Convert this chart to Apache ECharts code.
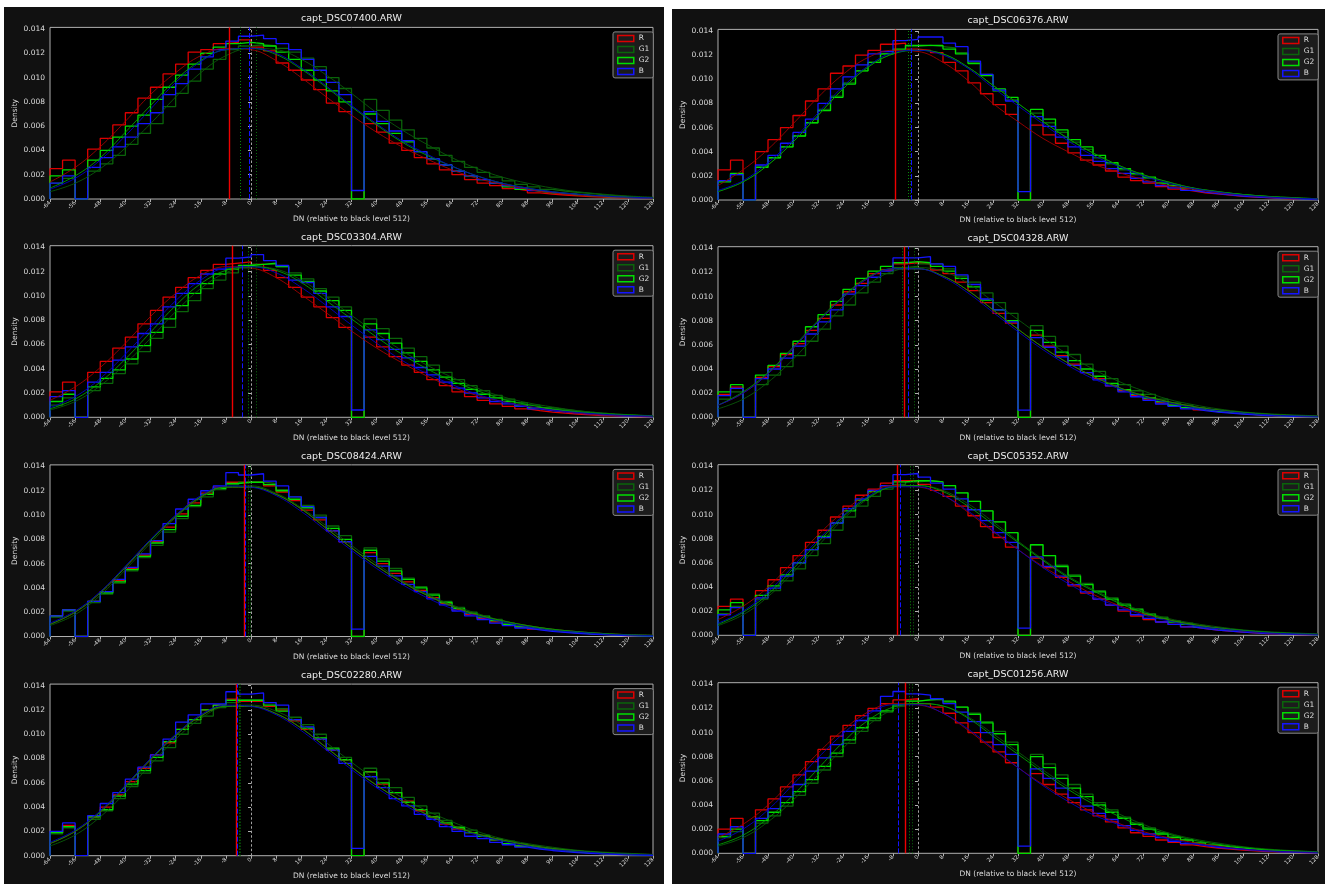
<!DOCTYPE html>
<html><head><meta charset="utf-8">
<script src="https://cdn.jsdelivr.net/npm/echarts@6/dist/echarts.min.js"></script>
<style>html,body{margin:0;padding:0;background:#fff}#c{width:1325px;height:884px}</style>
</head><body><div id="c"></div>
<script>
// Histogram bin edges (DN relative to black level 512)
const BIN_EDGES = [-64,-60,-56,-52,-48,-44,-40,-36,-32,-28,-24,-20,-16,-12,-8,-4,0,4,8,12,16,20,24,28,32,36,40,44,48,52,56,60,64,68,72,76,80,84,88,92,96,100,104,108,112,116,120,124,128];
// x positions of fitted-curve samples
const FIT_X = [-64,-56,-48,-40,-32,-24,-16,-8,0,8,16,24,32,40,48,56,64,72,80,88,96,104,112,120,128];
const CHANNELS = ['R','G1','G2','B'];
const UNIT = 1e-4; // all densities below are in units of 1e-4

// ---- capt_DSC07400.ARW ----
const L1_R  = [25,32,0,41,50,61,71,83,92,103, 111,121,123,128,129,131,125,122,112,106, 98,90,79,72,0,62,55,46,40,34, 29,24,20,16,13,11,8.5,7,5,4, 3.3,2.5,2,1.5,1.1,0.8,0.5,0.3];
const L1_G1 = [13,17,0,23,29,36,45,54,62,76, 87,97,107,115,123,126,127,126,124,121, 116,109,100,91,0,82,73,65,57,50, 42,36,31,26,22,18,15,12,10,8, 6.6,5.5,4.7,3.6,2.8,2,1.4,1];
const L1_G2 = [19,24,0,32,40,51,60,69,82,92, 102,111,120,125,128,129,128,126,121,115, 106,98,89,80,0,70,62,54,47,39, 33,28,23,19,16,13,10,8,6.6,5, 4.4,3.5,2.8,2.2,1.6,1.1,0.7,0.4];
const L1_B  = [13,19,0,26,34,43,51,62,71,86, 95,107,117,123,130,134,135,132,128,123, 115,106,96,86,7,72,64,56,48,39, 33,28,23,19,16,13,11,9,7,5.5, 4.7,3.8,3,2.3,1.7,1.2,0.8,0.5];
const L1_R_FIT  = [14,26,43,64,86,104,118,124,123,114,100,84,69,55,43,33,24,17,12,8,5,3.2,2,1.2,0.7];
const L1_G1_FIT = [6,13,25,42,62,84,104,118,124,123,115,102,87,71,57,45,34,25,18,13,9,6,4,2.5,1.5];
const L1_G2_FIT = [9,19,34,55,77,98,114,123,124,119,107,92,76,61,47,36,27,19,13,9,6,4,2.5,1.5,1];
const L1_B_FIT  = [8,17,32,52,74,96,113,123,124,120,108,93,77,62,48,37,27,19,13,9,6,4,2.5,1.5,1];
const L1_MEAN = [-6.85, 1.7, -3.4, -0.7];

// ---- capt_DSC03304.ARW ----
const L2_R  = [21,29,0,37,46,57,66,77,88,99, 107,115,121,126,127,128,126,121,115,107, 99,91,82,74,0,66,58,50,43,37, 31,26,21,17,14,11,9,7,5.5,4.3, 3.4,2.6,2,1.5,1.1,0.7,0.5,0.3];
const L2_G1 = [10,16,0,22,28,36,44,54,65,74, 87,96,106,113,119,123,126,126,124,119, 114,106,99,91,0,81,73,65,57,50, 43,37,31,26,22,18,15,12,10,8, 6.5,5.3,4.3,3.4,2.6,1.9,1.3,0.8];
const L2_G2 = [13,19,0,25,32,39,48,59,70,81, 92,102,110,118,122,125,126,127,124,117, 112,104,96,88,0,77,69,61,53,46, 39,33,28,23,19,16,13,10,8,6.5, 5.2,4.2,3.3,2.5,1.8,1.2,0.8,0.5];
const L2_B  = [17,22,0,29,37,47,58,69,77,91, 102,110,118,122,131,132,134,129,125,113, 111,102,91,83,6,72,64,56,49,41, 35,29,24,20,16,13,11,9,7,5.5, 4.4,3.5,2.7,2,1.5,1,0.7,0.4];
const L2_R_FIT  = [14,25,41,61,83,102,117,124,123,115,101,86,71,57,45,34,25,18,13,9,6,3.5,2,1.3,0.8];
const L2_G1_FIT = [6,13,26,44,65,87,106,119,124,122,113,99,84,69,55,43,33,24,17,12,8.5,5.5,3.5,2.2,1.3];
const L2_G2_FIT = [7,15,29,48,70,92,110,121,124,121,111,96,81,66,52,40,30,22,15,10.5,7,4.5,3,2,1.2];
const L2_B_FIT  = [8,17,32,52,74,96,113,123,124,119,107,92,76,61,47,36,27,19,13,9,6,4,2.5,1.5,1];
const L2_MEAN = [-6.0, 1.8, -0.9, -2.8];

// ---- capt_DSC08424.ARW ----
const L3_R  = [17,22,0,29,37,46,56,67,78,90, 101,110,118,123,127,127,127,124,119,112, 104,96,87,78,0,69,60,52,45,38, 32,27,22,18,15,12,10,8,6,4.8, 3.8,3,2.3,1.7,1.2,0.8,0.5,0.3];
const L3_G1 = [16,21,0,28,35,44,54,65,75,86, 97,107,115,121,125,127,127,126,121,115, 108,100,91,83,0,73,64,56,48,41, 35,29,24,20,17,14,11,9,7,5.5, 4.4,3.4,2.6,2,1.5,1,0.7,0.4];
const L3_G2 = [17,22,0,29,36,45,55,66,77,88, 99,108,117,122,126,127,127,125,120,113, 106,98,89,80,0,71,62,54,47,40, 34,28,23,19,16,13,10,8,6.5,5, 4,3.2,2.4,1.8,1.3,0.9,0.6,0.3];
const L3_B  = [17,22,0,29,37,47,57,68,79,93, 105,113,120,124,135,133,134,128,124,115, 107,98,87,78,6,66,58,50,43,37, 31,26,21,17,14,11,9,7,5.5,4.3, 3.4,2.6,2,1.5,1.1,0.7,0.5,0.3];
const L3_R_FIT  = [10,20,36,57,79,99,115,123,123,117,105,89,73,58,45,34,25,18,13,9,6,4,2.5,1.5,1];
const L3_G1_FIT = [9,18,34,55,77,98,114,123,124,118,106,91,75,60,46,35,26,19,13,9,6,4,2.5,1.5,1];
const L3_G2_FIT = [10,20,36,57,79,99,115,123,123,117,105,89,73,58,45,34,25,18,13,9,6,4,2.5,1.5,1];
const L3_B_FIT  = [11,21,37,58,80,100,116,124,123,116,103,87,71,56,43,32,23,17,12,8,5,3.5,2,1.2,0.8];
const L3_MEAN = [-2.3, -0.3, -0.9, -1.8];

// ---- capt_DSC02280.ARW ----
const L4_R  = [19,25,0,32,40,50,61,72,83,93, 104,112,120,124,129,127,127,123,120,111, 104,96,87,79,0,69,59,52,45,37, 32,26,22,19,16,13,10,8,6.5,5, 4,3.1,2.4,1.8,1.3,0.9,0.6,0.3];
const L4_G1 = [18,23,0,30,37,47,57,68,78,89, 100,109,115,122,126,128,128,126,121,114, 108,100,89,81,0,72,63,56,48,41, 35,29,24,21,17,14,12,10,8,6, 5,4,3,2.3,1.7,1.2,0.8,0.5];
const L4_G2 = [19,24,0,32,38,49,59,70,81,94, 104,112,120,124,128,128,128,124,119,112, 105,97,88,79,0,69,60,52,44,38, 32,27,23,19,16,13,10,8,6.5,5, 4,3.1,2.4,1.8,1.3,0.9,0.6,0.3];
const L4_B  = [20,27,0,33,43,52,63,73,83,96, 110,116,125,125,135,133,134,126,124,112, 106,96,87,76,6,65,56,47,41,34, 30,24,20,16,14,11,9,7,5.5,4.3, 3.4,2.6,2,1.5,1.1,0.7,0.5,0.3];
const L4_R_FIT  = [10,20,36,57,79,99,115,123,123,117,105,89,73,58,45,34,25,18,13,9,6,4,2.5,1.5,1];
const L4_G1_FIT = [8,17,32,52,75,96,113,123,124,119,108,93,77,62,48,37,28,20,14,10,7,4.5,3,2,1];
const L4_G2_FIT = [10,20,36,57,79,99,115,123,123,117,105,89,73,58,45,34,25,18,13,9,6,4,2.5,1.5,1];
const L4_B_FIT  = [11,21,37,58,80,100,116,124,123,116,103,87,71,56,43,32,23,17,12,8,5,3.5,2,1.2,0.8];
const L4_MEAN = [-4.6, -3.3, -3.8, -4.5];

// ---- capt_DSC06376.ARW ----
const R1_R  = [25,33,0,40,50,60,70,82,92,105, 111,120,124,129,130,125,124,122,114,107, 97,88,79,71,0,62,54,47,39,33, 29,24,19,16,14,11,9,7.5,6,5, 4,3,2.5,2,1.4,1,0.8,0.5];
const R1_G1 = [16,21,0,28,35,44,53,64,75,86, 97,107,114,121,124,127,128,127,126,122, 114,104,90,83,0,72,64,56,48,42, 35,30,25,21,18,14,12,10,8,6.4, 5.2,4.2,3.4,2.6,2,1.5,1,0.5];
const R1_G2 = [15,22,0,27,35,44,53,64,74,85, 96,107,114,121,125,128,128,128,125,121, 113,103,92,85,0,75,67,58,50,44, 37,31,26,22,19,14,12,10,8,6.6, 5.5,4.4,3.6,2.8,2,1.6,1,0.5];
const R1_B  = [16,21,0,29,37,47,56,67,80,92, 102,112,121,123,132,133,135,135,130,127, 115,104,91,82,7,69,61,52,44,37, 32,26,22,18,15,12,10,8,6.5,5.2, 4.2,3.3,2.6,2,1.5,1.1,0.7,0.4];
const R1_R_FIT  = [12,25,42,63,85,104,118,124,123,114,99,80,65,51,40,30,23,17,12,9,6,4,2.5,1.5,1];
const R1_G1_FIT = [7,15,29,48,70,92,110,121,124,121,110,95,80,65,51,39,29,21,15,10,7,4.5,3,2,1];
const R1_G2_FIT = [7,15,29,48,70,92,110,121,124,121,110,95,80,65,51,39,29,21,15,10,7,4.5,3,2,1];
const R1_B_FIT  = [8,16,31,50,72,94,111,122,124,120,109,93,78,63,49,37,28,20,14,9.5,6.5,4,2.5,1.5,1];
const R1_MEAN = [-7.2, -2.5, -3.0, -2.3];

// ---- capt_DSC04328.ARW ----
const R2_R  = [19,25,0,33,42,52,61,72,82,93, 104,111,119,122,127,128,127,122,119,112, 105,95,86,78,0,68,59,51,44,37, 32,26,22,18,15,12,10,8,6.2,4.8, 3.8,3,2.3,1.7,1.2,0.8,0.5,0.3];
const R2_G1 = [15,21,0,27,35,42,51,63,73,84, 93,103,112,119,124,125,127,127,123,117, 112,103,95,86,0,76,67,59,52,44, 38,32,27,22,19,15,12,10,8,6.3, 5,4,3.2,2.4,1.8,1.3,0.9,0.5];
const R2_G2 = [21,27,0,35,43,53,63,75,85,96, 106,115,121,125,128,129,128,125,121,115, 108,97,89,80,0,72,62,54,47,40, 34,28,23,19,16,13,10,8,6.5,5, 4,3.2,2.4,1.8,1.3,0.9,0.6,0.3];
const R2_B  = [18,24,0,32,40,49,59,69,79,89, 102,109,116,121,132,132,133,127,125,118, 110,98,89,79,6,66,58,50,43,37, 31,26,21,17,14,11,9,7,5.5,4.3, 3.4,2.6,2,1.5,1.1,0.7,0.5,0.3];
const R2_R_FIT  = [10,20,36,57,79,99,115,123,123,117,105,89,73,58,45,34,25,18,13,9,6,4,2.5,1.5,1];
const R2_G1_FIT = [7,15,29,48,70,92,110,121,124,121,111,96,81,66,52,40,30,22,15,10.5,7,4.5,3,2,1.2];
const R2_G2_FIT = [10,21,37,58,80,100,116,123,123,117,105,89,73,58,45,34,25,18,13,9,6,4,2.5,1.5,1];
const R2_B_FIT  = [10,20,36,57,79,99,115,123,123,116,103,87,71,56,43,32,24,17,12,8,5.5,3.5,2,1.2,0.8];
const R2_MEAN = [-4.4, -1.2, -5.0, -3.1];

// ---- capt_DSC05352.ARW ----
const R3_R  = [24,30,0,37,46,56,66,77,87,98, 107,116,121,126,128,128,125,120,115,107, 99,90,81,73,0,64,56,48,41,35, 30,25,20,16,13,11,9,7,5.5,4.3, 3.4,2.6,2,1.5,1.1,0.7,0.5,0.3];
const R3_G1 = [18,24,0,30,37,45,55,66,76,87, 98,107,115,121,125,127,128,127,124,118, 111,103,94,85,0,75,66,58,50,43, 37,31,26,22,18,15,12,10,8,6.3, 5,4,3.2,2.4,1.8,1.3,0.9,0.5];
const R3_G2 = [21,27,0,33,41,50,60,71,82,93, 103,112,119,124,127,128,128,127,124,118, 111,103,94,85,0,75,66,57,49,42, 36,30,25,21,17,14,11,9,7,5.5, 4.4,3.4,2.6,2,1.5,1,0.7,0.4];
const R3_B  = [17,23,0,31,39,49,60,71,81,93, 105,113,120,124,133,134,131,126,121,113, 104,95,85,77,6,65,57,49,42,36, 30,25,21,17,14,11,9,7,5.5,4.3, 3.4,2.6,2,1.5,1.1,0.7,0.5,0.3];
const R3_R_FIT  = [13,24,40,61,83,102,117,124,123,116,102,86,71,57,45,34,25,18,13,9,6,3.5,2,1.3,0.8];
const R3_G1_FIT = [8,17,32,52,74,96,113,123,124,120,109,94,78,63,49,38,28,20,14,10,7,4.5,3,2,1.2];
const R3_G2_FIT = [9,19,34,55,77,98,114,123,124,119,107,92,77,62,48,37,27,19,13,9,6,4,2.5,1.5,1];
const R3_B_FIT  = [10,20,36,57,79,99,115,123,123,116,103,87,71,56,43,32,24,17,12,8,5.5,3.5,2,1.2,0.8];
const R3_MEAN = [-6.5, -1.5, -2.5, -5.8];

// ---- capt_DSC01256.ARW ----
const R4_R  = [20,29,0,36,45,55,65,76,86,97, 106,114,120,124,127,128,124,121,116,108, 100,92,84,75,0,66,57,49,42,36, 31,26,21,17,14,11,9,7,5.5,4.3, 3.4,2.6,2,1.5,1.1,0.7,0.5,0.3];
const R4_G1 = [13,18,0,25,31,39,48,58,69,80, 91,101,110,117,122,126,127,127,125,121, 116,109,101,92,0,82,74,65,57,49, 42,36,30,25,21,17,14,11,9,7, 5.6,4.5,3.6,2.8,2.1,1.5,1,0.6];
const R4_G2 = [14,20,0,27,34,42,51,61,72,83, 94,104,112,118,123,126,127,128,126,121, 115,108,99,90,0,80,71,62,54,47, 40,34,29,24,20,16,13,11,8.5,6.8, 5.4,4.3,3.4,2.6,1.9,1.3,0.9,0.5];
const R4_B  = [16,22,0,29,37,47,57,68,79,90, 101,110,118,130,134,132,131,128,124,117, 109,100,90,82,6,70,62,54,46,39, 33,28,23,19,16,13,10,8,6.5,5, 4,3.2,2.4,1.8,1.3,0.9,0.6,0.3];
const R4_R_FIT  = [13,24,40,61,83,102,117,124,123,116,102,86,71,57,45,34,25,18,13,9,6,3.5,2,1.3,0.8];
const R4_G1_FIT = [6,13,26,44,65,87,106,119,124,122,113,99,84,69,55,43,33,24,17,12,8.5,5.5,3.5,2.2,1.3];
const R4_G2_FIT = [7,15,29,48,70,92,110,121,124,122,112,97,82,67,53,41,31,22,16,11,7.5,5,3,2,1.2];
const R4_B_FIT  = [10,20,36,57,79,99,115,123,123,116,103,87,71,56,43,32,24,17,12,8,5.5,3.5,2,1.2,0.8];
const R4_MEAN = [-4.2, -1.8, -2.8, -6.4];

const PANELS = [
  {title:'capt_DSC07400.ARW', hist:[L1_R,L1_G1,L1_G2,L1_B], fit:[L1_R_FIT,L1_G1_FIT,L1_G2_FIT,L1_B_FIT], mean:L1_MEAN},
  {title:'capt_DSC03304.ARW', hist:[L2_R,L2_G1,L2_G2,L2_B], fit:[L2_R_FIT,L2_G1_FIT,L2_G2_FIT,L2_B_FIT], mean:L2_MEAN},
  {title:'capt_DSC08424.ARW', hist:[L3_R,L3_G1,L3_G2,L3_B], fit:[L3_R_FIT,L3_G1_FIT,L3_G2_FIT,L3_B_FIT], mean:L3_MEAN},
  {title:'capt_DSC02280.ARW', hist:[L4_R,L4_G1,L4_G2,L4_B], fit:[L4_R_FIT,L4_G1_FIT,L4_G2_FIT,L4_B_FIT], mean:L4_MEAN},
  {title:'capt_DSC06376.ARW', hist:[R1_R,R1_G1,R1_G2,R1_B], fit:[R1_R_FIT,R1_G1_FIT,R1_G2_FIT,R1_B_FIT], mean:R1_MEAN},
  {title:'capt_DSC04328.ARW', hist:[R2_R,R2_G1,R2_G2,R2_B], fit:[R2_R_FIT,R2_G1_FIT,R2_G2_FIT,R2_B_FIT], mean:R2_MEAN},
  {title:'capt_DSC05352.ARW', hist:[R3_R,R3_G1,R3_G2,R3_B], fit:[R3_R_FIT,R3_G1_FIT,R3_G2_FIT,R3_B_FIT], mean:R3_MEAN},
  {title:'capt_DSC01256.ARW', hist:[R4_R,R4_G1,R4_G2,R4_B], fit:[R4_R_FIT,R4_G1_FIT,R4_G2_FIT,R4_B_FIT], mean:R4_MEAN}
];

// ---- layout / style ----
const GEOM = [
  {left:50, top:27.4, width:603, height:171.6},
  {left:50, top:245.7, width:603, height:171.6},
  {left:50, top:464.9, width:603, height:171.6},
  {left:50, top:684.1, width:603, height:171.6},
  {left:718, top:29.4, width:600, height:170.6},
  {left:718, top:246.7, width:600, height:170.6},
  {left:718, top:464.7, width:600, height:170.6},
  {left:718, top:682.7, width:600, height:170.6}
];
const HIST_COLORS = ['#dd0000','#0a640a','#00dd00','#1414ff'];
const FIT_COLORS  = ['#a00000','#0a5a0a','#00a000','#0000c0'];
const MEAN_STYLES = ['solid',[1,2],[1,2],[5,2]];
const MEAN_COLORS = ['#ee0000','#0a6a0a','#0a8a0a','#1414ff'];
const MEAN_WIDTHS = [1.4, 1, 1, 1];
const FG = '#dddddd', SPINE = '#b0b0b0', FONT = 'DejaVu Sans';
const YMAX = 0.01413;

function histPoints(vals){
  const pts = [[BIN_EDGES[0], 0]];
  for (let i = 0; i < vals.length; i++) pts.push([BIN_EDGES[i], vals[i]*UNIT]);
  const last = BIN_EDGES[BIN_EDGES.length-1];
  pts.push([last, vals[vals.length-1]*UNIT]);
  pts.push([last, 0]);
  return pts;
}

const grid = [], xAxis = [], yAxis = [], series = [], title = [], legend = [];
PANELS.forEach((p, k) => {
  const g = GEOM[k];
  grid.push({left:g.left, top:g.top, width:g.width, height:g.height, show:true,
    backgroundColor:'#000', borderColor:SPINE, borderWidth:1, containLabel:false});
  xAxis.push({type:'value', gridIndex:k, min:-64, max:128, interval:8,
    name:'DN (relative to black level 512)', nameLocation:'middle', nameGap:16.5,
    nameTextStyle:{color:FG, fontSize:7.5, fontFamily:FONT},
    axisLine:{show:false}, splitLine:{show:false},
    axisTick:{show:true, length:3, lineStyle:{color:SPINE}},
    axisLabel:{rotate:45, fontSize:5.5, color:FG, margin:3, fontFamily:FONT}});
  yAxis.push({type:'value', gridIndex:k, min:0, max:YMAX, interval:0.002,
    name:'Density', nameLocation:'middle', nameGap:31, nameRotate:90,
    nameTextStyle:{color:FG, fontSize:7.5, fontFamily:FONT},
    axisLine:{show:false}, splitLine:{show:false},
    axisTick:{show:true, length:3, lineStyle:{color:SPINE}},
    axisLabel:{color:FG, fontSize:7.5, margin:5, fontFamily:FONT, showMaxLabel:false,
      formatter: v => v > 0.01405 ? '' : v.toFixed(3)}});
  title.push({text:p.title, left:g.left + g.width/2, top:g.top - 13.5, textAlign:'center', padding:0,
    textStyle:{color:'#eeeeee', fontSize:9.5, fontWeight:'normal', fontFamily:FONT}});
  legend.push({left:g.left + g.width - 40, top:g.top + 4.5, orient:'vertical', selectedMode:false,
    itemWidth:16, itemHeight:6, itemGap:2, padding:[2,4,2,4],
    backgroundColor:'#1c1c1c', borderColor:'#888', borderWidth:1, borderRadius:2,
    textStyle:{color:FG, fontSize:7.5, lineHeight:9, fontFamily:FONT},
    data: CHANNELS.map((ch, c) => ({name:ch, icon:'rect',
      itemStyle:{color:'#1c1c1c', borderColor:HIST_COLORS[c], borderWidth:1.5}}))});
  CHANNELS.forEach((ch, c) => {
    series.push({type:'line', name:ch, xAxisIndex:k, yAxisIndex:k, step:'end', symbol:'none',
      data:histPoints(p.hist[c]), z:3+c,
      lineStyle:{color:HIST_COLORS[c], width:1.3}, itemStyle:{color:HIST_COLORS[c]},
      markLine:{silent:true, symbol:['none','none'], label:{show:false}, animation:false, z:9,
        lineStyle:{color:MEAN_COLORS[c], width:MEAN_WIDTHS[c], type:MEAN_STYLES[c]},
        data:[{xAxis:p.mean[c]}]}});
  });
  CHANNELS.forEach((ch, c) => {
    const s = {type:'line', name:ch + ' fit', xAxisIndex:k, yAxisIndex:k, symbol:'none',
      smooth:0.4, z:8,
      data:FIT_X.map((x, i) => [x, p.fit[c][i]*UNIT]),
      lineStyle:{color:FIT_COLORS[c], width:1, opacity:0.9}, itemStyle:{color:FIT_COLORS[c]}};
    if (c === 3) s.markLine = {silent:true, symbol:['none','none'], label:{show:false}, animation:false,
      lineStyle:{color:'#a0a0a0', width:1, type:[2.5,2]}, data:[{xAxis:0}]};
    series.push(s);
  });
});

const chart = echarts.init(document.getElementById('c'), null, {renderer:'canvas'});
chart.setOption({
  animation:false,
  backgroundColor:'#ffffff',
  textStyle:{fontFamily:FONT},
  graphic:[
    {type:'rect', z:-100, silent:true, shape:{x:4, y:7, width:660, height:877}, style:{fill:'#111111'}},
    {type:'rect', z:-100, silent:true, shape:{x:672, y:9, width:653, height:875}, style:{fill:'#111111'}}
  ],
  title, legend, grid, xAxis, yAxis, series
});
</script></body></html>
